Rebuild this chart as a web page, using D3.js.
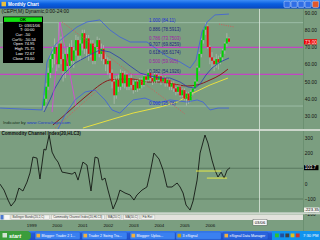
<!DOCTYPE html>
<html>
<head>
<meta charset="utf-8">
<script src="https://cdn.jsdelivr.net/npm/d3@7"></script>
<style>
  html, body { margin: 0; padding: 0; background: #7b9e80; overflow: hidden; }
  svg { display: block; font-family: "Liberation Sans", Arial, sans-serif; }
</style>
</head>
<body>
<svg id="chart"></svg>
<script>
// Monthly Chart (CEPH,M) screenshot, price + CCI

// monthly candles from Jul 1999: [open, high, low, close]
const candles = [
  [36,42,33,40],[40,49,38,47],[47,58,45,55],[55,66,52,63],[63,70,58,66],[66,75,60,70],
  [70,72,56,60],[60,84,58,72],[72,76,60,63],[63,66,50,56],[56,68,52,66],[66,70,56,59],
  [59,72,57,70],[70,74,60,62],[62,70,58,68],[68,77,65,74],[74,76,62,65],[65,74,62,72],
  [72,80,68,78],[78,80,66,69],[69,77,64,75],[75,77,62,66],[66,74,64,72],[72,74,60,62],
  [62,72,60,70],[70,76,66,74],[74,75,64,66],[66,72,62,69],[69,71,60,63],[63,66,56,60],
  [60,64,54,62],[62,63,52,55],[55,57,46,50],[50,52,37,42],[42,53,40,51],[51,54,44,47],
  [47,57,45,55],[55,56,47,49],[49,56,46,54],[54,55,45,47],[47,53,45,52],[52,54,46,48],
  [48,50,43,45],[45,51,44,50],[50,51,44,46],[46,52,45,51],[51,52,46,48],[48,54,47,53],
  [53,54,49,51],[51,57,50,55],[55,56,50,52],[52,53,48,50],[50,55,49,54],[54,55,49,51],
  [51,54,50,53],[53,54,48,50],[50,53,49,52],[52,53,47,49],[49,52,47,51],[51,52,45,47],
  [47,50,45,49],[49,50,44,46],[46,47,42,44],[44,48,43,47],[47,48,41,42],[42,46,41,45],
  [45,46,39,40],[40,44,36,43],[43,44,37,39],[39,45,38,44],[44,47,42,46],[46,51,45,50],
  [50,59,49,58],[58,67,56,66],[66,75,64,74],[74,81,72,80],[80,84,77,82],[82,83,69,70],
  [70,71,60,64],[64,67,58,62],[62,64,56,60],[60,66,58,63],[63,65,57,61],[61,66,60,64],
  [64,69,62,68],[68,73,66,72],[72,78,70,75],[74.95,75.75,72.67,73.00]
];

// x axis: month index (0 = Jul 1999)
const yearLabels = ["1999", "2000", "2001", "2002", "2003", "2004", "2005", "2006"];
const yearIdx = [-6, 6, 18, 30, 42, 54, 66, 78];
const priceTicks = [90, 80, 70, 60, 50, 40, 30];
const cciTicks = [300, 200, 0, -100, -200];

// fibonacci tool
const fibRatios = ["1.000", "0.886", "0.786", "0.707", "0.618", "0.500", "0.382", "0.000"];
const fibValues = [84.11, 78.5913, 73.7503, 69.8259, 65.6174, 59.905, 54.1926, 35.78];
const magentaLevels = [69.83, 54.19];

// overlay lines, [month index, price]
const upperBand = [[-20.7,34.6],[-0.9,33.5],[0.5,48.0],[1.4,61.3],[5.2,71.2],[8.9,75.2],[15.5,81.6],
  [20.2,84.5],[26.3,85.7],[31.0,79.9],[35.7,75.8],[40.5,72.9],[48.4,72.9],[53.6,68.3],[58.3,64.2],
  [64.0,61.3],[68.7,57.8],[71.5,62.5],[74.3,78.7],[76.7,84.5],[80.4,88.6],[87.0,89.1]];
const midBand = [[0,32.3],[2.8,39.3],[5.2,46.2],[8.9,53.8],[14.6,60.7],[21.6,65.4],[26.3,68.3],
  [31.0,67.1],[35.7,63.6],[40.5,59.0],[45.2,54.9],[49.9,53.2],[54.6,52.0],[59.3,52.0],[64.0,49.7],
  [67.7,46.8],[71.0,46.2],[73.4,48.6],[76.2,53.8],[79.0,57.8],[82.8,61.3],[87.0,63.6]];
const lowerBand = [[5.2,19.0],[9.9,30.6],[14.6,39.3],[19.3,43.9],[24.0,45.1],[28.7,39.3],[32.0,33.5],
  [35.7,31.7],[41.9,39.3],[47.5,40.4],[53.2,37.5],[59.3,39.3],[67.3,38.1],[72.0,39.3],[74.8,38.1],
  [78.1,33.5],[81.8,34.6],[87.0,34.6]];
const maroonMA = [[4.2,24.8],[10.8,31.7],[16.0,37.5],[21.6,43.3],[26.3,48.0],[31.0,50.9],[35.7,51.4],
  [41.9,51.4],[48.4,49.7],[54.6,49.7],[60.7,48.6],[67.3,47.4],[72.0,48.0],[78.1,50.9],[82.8,53.8],[86.5,57.2]];
const yellowMA = [[18.3,23.0],[31.0,27.7],[41.9,31.7],[54.6,35.2],[62.6,38.1],[70.1,43.3],[78.1,48.0],[86.5,52.0]];
const zigzag = [[3.8,32.3],[7.5,84.5],[15.1,35.8]];
const dottedLines = [
  [[8.5,84.5],[66.3,31.2]],
  [[5.2,23.0],[26.3,46.2]],
  [[82.3,83.3],[89.4,81.6]],
  [[56.0,53.2],[63.0,47.4],[69.6,41.0]]
];

// CCI(20,HLC3), [month index, value]
const cci = [[-20.7,-3],[-18.8,-42],[-16.9,-107],[-15.5,-146],[-13.6,-113],[-11.8,-29],[-9.9,-48],
  [-8.0,10],[-6.6,69],[-5.2,173],[-3.3,166],[-1.9,30],[0,225],[0.9,218],[2.4,316],[3.8,205],
  [5.2,166],[6.6,140],[8.5,75],[10.8,69],[13.2,62],[14.6,75],[16.0,23],[18.3,140],[20.2,121],
  [22.1,-48],[24.0,173],[25.4,166],[27.3,23],[28.7,36],[30.1,-42],[32.5,-165],[34.3,-107],
  [35.7,-42],[38.1,-61],[40.5,-74],[42.3,-107],[43.7,-74],[46.1,-42],[48.4,-22],[49.9,69],
  [51.7,199],[54.1,160],[56.0,88],[57.9,-22],[60.2,-22],[62.6,4],[64.0,-22],[65.4,-61],
  [66.8,-139],[68.7,-172],[70.1,-113],[72.0,23],[73.4,199],[75.7,316],[77.1,264],[79.0,153],
  [80.4,88],[81.8,43],[83.3,75],[84.7,36],[86.1,88],[87.5,103.7]];
const cciGuides = [[[71.5,82],[83.3,82]], [[76.6,36],[86.1,36]]];

const dataWindow = [["D:", "03/01/06"], ["T:", "00:00"], ["Cur:", "-50"], ["Cur%:", "-50.54"],
  ["Open", "74.95"], ["High", "75.75"], ["Low", "72.67"], ["Close", "73.00"]];
const tabNames = ["Bollinger Bands(20,2,C)", "Commodity Channel Index(20,HLC3)", "MA(20,C)", "MA(50,C)", "Fib Ret"];
const taskButtons = ["Blogger: Trader 2 1...", "Trader 2 Swing Tra...", "Blogger: Uploa...", "3 eSignal", "eSignal Data Manager"];

(function () {
  const W = 320, H = 240;
  const BG = "#7b9e80";
  const UP = "#00d400", DOWN = "#e81010", WICK = "#b8c2b8";

  const svg = d3.select("#chart").attr("width", W).attr("height", H);
  const defs = svg.append("defs");

  svg.append("rect").attr("width", W).attr("height", H).attr("fill", BG);

  const x = d3.scaleLinear().domain([0, 87]).range([44, 229]);
  const y = d3.scaleLinear().domain([30, 90]).range([116, 12.5]);
  const yc = d3.scaleLinear().domain([-100, 300]).range([199, 137.5]);

  defs.append("clipPath").attr("id", "clipP")
    .append("rect").attr("x", 0).attr("y", 9).attr("width", 303).attr("height", 120);
  defs.append("clipPath").attr("id", "clipC")
    .append("rect").attr("x", 0).attr("y", 131).attr("width", 303).attr("height", 81);

  // ---- price panel ----
  const gp = svg.append("g").attr("clip-path", "url(#clipP)");

  [fibValues[0], fibValues[fibValues.length - 1]].forEach(v => {
    gp.append("line").attr("x1", 0).attr("x2", 303)
      .attr("y1", y(v)).attr("y2", y(v))
      .attr("stroke", "#a4c4ae").attr("stroke-width", 0.8);
  });
  magentaLevels.forEach(v => {
    gp.append("line").attr("x1", 0).attr("x2", 303)
      .attr("y1", y(v)).attr("y2", y(v))
      .attr("stroke", "#e020e0").attr("stroke-width", 0.9);
  });

  const line = d3.line().x(d => x(d[0])).y(d => y(d[1]));

  gp.append("path").datum(yellowMA).attr("d", line)
    .attr("fill", "none").attr("stroke", "#e8e040").attr("stroke-width", 1);
  gp.append("path").datum(maroonMA).attr("d", line.curve(d3.curveMonotoneX))
    .attr("fill", "none").attr("stroke", "#8a1c1c").attr("stroke-width", 1);
  line.curve(d3.curveLinear);

  // candles
  const cg = gp.append("g");
  candles.forEach((c, i) => {
    const [o, h, l, cl] = c;
    cg.append("line").attr("x1", x(i)).attr("x2", x(i))
      .attr("y1", y(h)).attr("y2", y(l))
      .attr("stroke", WICK).attr("stroke-width", 0.7);
    cg.append("rect")
      .attr("x", x(i) - 0.95).attr("width", 1.9)
      .attr("y", y(Math.max(o, cl))).attr("height", Math.max(0.6, Math.abs(y(o) - y(cl))))
      .attr("fill", cl >= o ? UP : DOWN);
  });

  [upperBand, midBand, lowerBand].forEach((b, i) => {
    gp.append("path").datum(b).attr("d", line)
      .attr("fill", "none").attr("stroke", i === 1 ? "#2a3ab0" : "#3c5ee0")
      .attr("stroke-width", 0.8);
  });
  gp.append("path").datum(zigzag).attr("d", line)
    .attr("fill", "none").attr("stroke", "#e040e0").attr("stroke-width", 0.8);
  dottedLines.forEach(d => {
    gp.append("path").datum(d).attr("d", line)
      .attr("fill", "none").attr("stroke", "#e05050")
      .attr("stroke-width", 0.8).attr("stroke-dasharray", "1 1.3");
  });

  // fib labels
  fibRatios.forEach((r, i) => {
    const col = (r === "0.786" || r === "0.500") ? "#a020a8"
      : (r === "1.000" || r === "0.000") ? "#1c2ed8" : "#1c2480";
    svg.append("text")
      .attr("x", 149).attr("y", y(fibValues[i]) - 1)
      .attr("font-size", 4.5).attr("fill", col)
      .text(`${r} (${fibValues[i]})`);
  });

  // header text
  svg.append("text").attr("x", 1.5).attr("y", 13.4)
    .attr("font-size", 4.9).attr("fill", "#111")
    .text("(CEPH,M) Dynamic,0:00-24:00");

  svg.append("text").attr("x", 3).attr("y", 124)
    .attr("font-size", 4.4).attr("fill", "#14301a")
    .text("Indicator by ")
    .append("tspan").attr("fill", "#1838c8").text("www.Coreschaps.com");

  // data window
  const dw = svg.append("g");
  dw.append("rect").attr("x", 3).attr("y", 16.5).attr("width", 40).attr("height", 46.5)
    .attr("fill", "#000");
  dw.append("rect").attr("x", 4).attr("y", 17.3).attr("width", 38).attr("height", 4.6)
    .attr("fill", "#10e010");
  dw.append("text").attr("x", 23).attr("y", 21.2).attr("text-anchor", "middle")
    .attr("font-size", 4.2).attr("font-weight", 700).attr("fill", "#000").text("OK");
  dataWindow.forEach((r, i) => {
    const yy = 26.6 + i * 4.7;
    dw.append("text").attr("x", 23).attr("y", yy).attr("text-anchor", "end")
      .attr("font-size", 4).attr("fill", "#fff").text(r[0]);
    dw.append("text").attr("x", 24.5).attr("y", yy)
      .attr("font-size", 4).attr("fill", "#fff").text(r[1]);
  });

  // right price axis
  svg.append("line").attr("x1", 303.5).attr("x2", 303.5).attr("y1", 9).attr("y2", 231)
    .attr("stroke", "#628667").attr("stroke-width", 0.6);
  const ay = svg.append("g").attr("transform", "translate(303,0)")
    .call(d3.axisRight(y).tickValues(priceTicks).tickFormat(d3.format(".2f")).tickSize(0).tickPadding(1.8));
  ay.select(".domain").remove();
  ay.selectAll("text").attr("font-size", 4.8).attr("fill", "#111").attr("font-family", null);

  const last = candles[candles.length - 1];
  svg.append("rect").attr("x", 304).attr("y", y(last[3]) - 2.6).attr("width", 13).attr("height", 5.2)
    .attr("fill", "#f00000");
  svg.append("text").attr("x", 305).attr("y", y(last[3]) + 1.7)
    .attr("font-size", 4.8).attr("fill", "#ffe0e0").text(d3.format(".2f")(last[3]));

  // panel separator
  svg.append("rect").attr("x", 0).attr("y", 129).attr("width", W).attr("height", 2)
    .attr("fill", "#ccd6cc");

  // ---- CCI panel ----
  const gc = svg.append("g").attr("clip-path", "url(#clipC)");
  [100, -100].forEach(v => {
    gc.append("line").attr("x1", 0).attr("x2", 303)
      .attr("y1", yc(v)).attr("y2", yc(v))
      .attr("stroke", "#4a6a50").attr("stroke-width", 0.7);
  });
  const cline = d3.line().x(d => x(d[0])).y(d => yc(d[1]));
  gc.append("path").datum(cci).attr("d", cline)
    .attr("fill", "none").attr("stroke", "#141814").attr("stroke-width", 0.9);
  cciGuides.forEach(s => {
    gc.append("path").datum(s).attr("d", cline)
      .attr("stroke", "#f0f040").attr("stroke-width", 0.9);
  });

  svg.append("text").attr("x", 1.5).attr("y", 135.3)
    .attr("font-size", 4.6).attr("font-weight", 700).attr("fill", "#111")
    .text("Commodity Channel Index(20,HLC3)");

  const ac = svg.append("g").attr("transform", "translate(303,0)")
    .call(d3.axisRight(yc).tickValues(cciTicks).tickFormat(d3.format("d")).tickSize(0).tickPadding(1.8));
  ac.select(".domain").remove();
  ac.selectAll("text").attr("font-size", 4.8).attr("fill", "#111").attr("font-family", null);

  const cLast = cci[cci.length - 1][1];
  svg.append("rect").attr("x", 304).attr("y", yc(cLast) - 2.5).attr("width", 14.5).attr("height", 5)
    .attr("fill", "#000");
  svg.append("text").attr("x", 304.8).attr("y", yc(cLast) + 1.6)
    .attr("font-size", 4.5).attr("fill", "#fff").text(cLast.toFixed(1));
  svg.append("rect").attr("x", 304).attr("y", 207.5).attr("width", 15.5).attr("height", 4.6)
    .attr("fill", "#f4f4f0");
  svg.append("text").attr("x", 304.6).attr("y", 211.2)
    .attr("font-size", 4.2).attr("fill", "#000").text("-223.35");

  // cursor line
  svg.append("line").attr("x1", 259.5).attr("x2", 259.5).attr("y1", 9).attr("y2", 213)
    .attr("stroke", "#dde8dd").attr("stroke-width", 0.8);

  // bottom separator + tab strip
  svg.append("rect").attr("x", 0).attr("y", 212.3).attr("width", W).attr("height", 2)
    .attr("fill", "#ccd6cc");
  svg.append("rect").attr("x", 0).attr("y", 214.5).attr("width", 303).attr("height", 5.5)
    .attr("fill", "#e2e2dc");
  svg.append("rect").attr("x", 0.5).attr("y", 215).attr("width", 3).attr("height", 4.5).attr("fill", "#4a78d0");
  svg.append("rect").attr("x", 4.5).attr("y", 215).attr("width", 5).attr("height", 4.5).attr("fill", "#f8f8f8");
  let tx = 11;
  tabNames.forEach(t => {
    const w = t.length * 1.55 + 3;
    svg.append("rect").attr("x", tx).attr("y", 215).attr("width", w).attr("height", 4.5)
      .attr("fill", "#f2f2ee").attr("stroke", "#9a9a94").attr("stroke-width", 0.3);
    svg.append("text").attr("x", tx + 1.5).attr("y", 218.4)
      .attr("font-size", 3).attr("fill", "#333").text(t);
    tx += w + 2;
  });

  // time axis
  const ax = svg.append("g").attr("transform", "translate(0,224)")
    .call(d3.axisBottom(x).tickValues(yearIdx).tickFormat((d, i) => yearLabels[i]).tickSize(0).tickPadding(0));
  ax.select(".domain").remove();
  ax.selectAll("text").attr("font-size", 4.4).attr("fill", "#111").attr("font-family", null);

  svg.append("rect").attr("x", 253).attr("y", 219.8).attr("width", 14).attr("height", 5.4)
    .attr("fill", "#f8f8f8").attr("stroke", "#333").attr("stroke-width", 0.3);
  svg.append("text").attr("x", 260).attr("y", 224).attr("text-anchor", "middle")
    .attr("font-size", 4.2).attr("fill", "#000").text("03/06");

  // ---- window title bar ----
  const tg = defs.append("linearGradient").attr("id", "tbar").attr("x1", 0).attr("x2", 0).attr("y1", 0).attr("y2", 1);
  tg.append("stop").attr("offset", "0%").attr("stop-color", "#3d8df5");
  tg.append("stop").attr("offset", "45%").attr("stop-color", "#0a5fe0");
  tg.append("stop").attr("offset", "100%").attr("stop-color", "#0848c0");
  svg.append("rect").attr("x", 0).attr("y", 0).attr("width", W).attr("height", 8.6).attr("fill", "url(#tbar)");
  svg.append("rect").attr("x", 1.5).attr("y", 1.8).attr("width", 4.5).attr("height", 4.5).attr("fill", "#e8c040");
  svg.append("text").attr("x", 8).attr("y", 6.1)
    .attr("font-size", 4.6).attr("font-weight", 700).attr("fill", "#fff").text("Monthly Chart");
  [284, 291, 298, 305, 312.5].forEach((bx, i) => {
    svg.append("rect").attr("x", bx).attr("y", 1.2).attr("width", 6.2).attr("height", 6.2).attr("rx", 1)
      .attr("fill", i === 4 ? "#e0582c" : "#2f6ee6").attr("stroke", "#fff").attr("stroke-width", 0.4);
  });

  // ---- taskbar ----
  const kg = defs.append("linearGradient").attr("id", "kbar").attr("x1", 0).attr("x2", 0).attr("y1", 0).attr("y2", 1);
  kg.append("stop").attr("offset", "0%").attr("stop-color", "#3c84f0");
  kg.append("stop").attr("offset", "30%").attr("stop-color", "#2458d8");
  kg.append("stop").attr("offset", "100%").attr("stop-color", "#1e4fc8");
  svg.append("rect").attr("x", 0).attr("y", 231).attr("width", W).attr("height", 9).attr("fill", "url(#kbar)");
  svg.append("path").attr("d", "M0,231 H27 Q31,231 31,235.5 Q31,240 27,240 H0 Z").attr("fill", "#3b9d3b");
  svg.append("rect").attr("x", 2.5).attr("y", 233).attr("width", 4.5).attr("height", 4.5).attr("fill", "#f0f0f0").attr("opacity", 0.85);
  svg.append("text").attr("x", 9).attr("y", 238).attr("font-size", 5.6).attr("font-style", "italic")
    .attr("font-weight", 700).attr("fill", "#fff").text("start");
  const bx = [35, 82, 130, 176, 223];
  taskButtons.forEach((t, i) => {
    svg.append("rect").attr("x", bx[i]).attr("y", 232).attr("width", 45).attr("height", 7.4).attr("rx", 1)
      .attr("fill", i === 4 ? "#2a64de" : "#3a80f0").attr("stroke", "#1d4fb8").attr("stroke-width", 0.3);
    svg.append("rect").attr("x", bx[i] + 1.5).attr("y", 233.8).attr("width", 3.6).attr("height", 3.6)
      .attr("fill", i === 3 ? "#c0a020" : "#f0b040");
    svg.append("text").attr("x", bx[i] + 6.5).attr("y", 237.2)
      .attr("font-size", 3.6).attr("fill", "#fff").text(t);
  });
  svg.append("rect").attr("x", 272).attr("y", 231).attr("width", 48).attr("height", 9).attr("fill", "#1093ee");
  ["#30c030", "#2050a0", "#404040", "#e0c020", "#d03030"].forEach((c, i) => {
    svg.append("rect").attr("x", 275 + i * 5.2).attr("y", 233.5).attr("width", 3.8).attr("height", 3.8).attr("fill", c);
  });
  svg.append("text").attr("x", 303).attr("y", 237.4)
    .attr("font-size", 4.2).attr("fill", "#fff").text("7:30 PM");
})();
</script>
</body>
</html>
